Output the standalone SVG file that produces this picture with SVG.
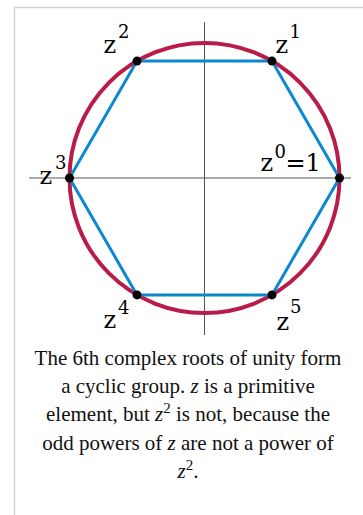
<svg xmlns="http://www.w3.org/2000/svg" width="363" height="515" viewBox="0 0 363 515">
<style>
.lbl{font-family:"DejaVu Serif",serif;font-size:24px;fill:#000}
.sup{font-size:18px}
.cap{font-family:"Liberation Serif","Times New Roman",serif;font-size:21px;fill:#111;text-anchor:middle}
.it{font-style:italic}
.cs{font-size:15px}
.axis{stroke:#555;stroke-width:1;fill:none}
.dot{fill:#000}
</style>
<rect x="0" y="0" width="363" height="515" fill="#fff"/>
<rect x="14.5" y="7.5" width="400" height="520" fill="#fff" stroke="#d4d4d4" stroke-width="1.5"/>
<g id="axes">
<line class="axis" x1="29" y1="178" x2="351" y2="178"/>
<line class="axis" x1="204.5" y1="22" x2="204.5" y2="335"/>
</g>
<g id="circle"><circle cx="204.5" cy="178" r="135" fill="none" stroke="#b91c47" stroke-width="4"/></g>
<g id="connectors"><polygon points="339.5,178 272,61.1 137,61.1 69.5,178 137,294.9 272,294.9" fill="none" stroke="#0a88d0" stroke-width="3" stroke-linejoin="round"/></g>
<g id="z0"><circle class="dot" cx="339.5" cy="178" r="4.5"/><text class="lbl" x="260.5" y="171">z<tspan class="sup" x="274.5" y="158">0</tspan><tspan x="285.5" y="171">=1</tspan></text></g>
<g id="z1"><circle class="dot" cx="272" cy="61.1" r="4.5"/><text class="lbl" x="275.5" y="53">z<tspan class="sup" x="289.5" y="38">1</tspan></text></g>
<g id="z2"><circle class="dot" cx="137" cy="61.1" r="4.5"/><text class="lbl" x="103.5" y="53">z<tspan class="sup" x="118" y="38">2</tspan></text></g>
<g id="z3"><circle class="dot" cx="69.5" cy="178" r="4.5"/><text class="lbl" x="39.5" y="184">z<tspan class="sup" x="55" y="169">3</tspan></text></g>
<g id="z4"><circle class="dot" cx="137" cy="294.9" r="4.5"/><text class="lbl" x="103.5" y="328">z<tspan class="sup" x="118" y="313.5">4</tspan></text></g>
<g id="z5"><circle class="dot" cx="272" cy="294.9" r="4.5"/><text class="lbl" x="276.5" y="329.5">z<tspan class="sup" x="290" y="312.5">5</tspan></text></g>
<g id="caption">
<text class="cap" x="188" y="365">The 6th complex roots of unity form</text>
<text class="cap" x="188" y="393">a cyclic group. <tspan class="it">z</tspan> is a primitive</text>
<text class="cap" x="188" y="421">element, but <tspan class="it">z</tspan><tspan class="cs" dy="-8">2</tspan><tspan dy="8"> is not, because the</tspan></text>
<text class="cap" x="188" y="450">odd powers of <tspan class="it">z</tspan> are not a power of</text>
<text class="cap" x="188" y="478"><tspan class="it">z</tspan><tspan class="cs" dy="-8">2</tspan><tspan dy="8">.</tspan></text>
</g>
</svg>
